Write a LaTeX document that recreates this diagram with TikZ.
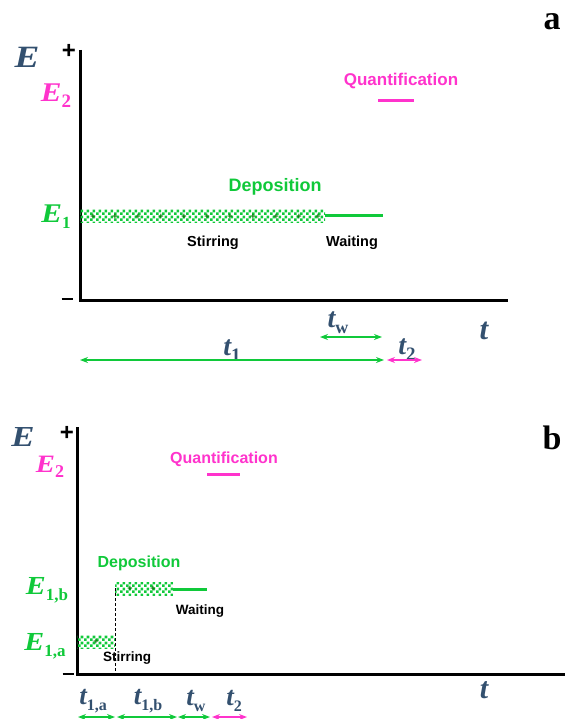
\documentclass[tikz,border=0pt]{standalone}
\usepackage{fontspec}
\setmainfont{Liberation Serif}
\setsansfont{Liberation Sans}
\usetikzlibrary{arrows.meta,patterns.meta}
\definecolor{dgreen}{HTML}{10C93A}
\definecolor{mag}{HTML}{FF33CC}
\definecolor{slate}{HTML}{33506F}
\tikzdeclarepattern{name=mycheck,type=uncolored,
  bounding box={(0pt,0pt) and (6pt,6pt)},
  tile size={(6pt,6pt)},
  code={\fill (0pt,0pt) rectangle (3pt,3pt); \fill (3pt,3pt) rectangle (6pt,6pt);}}
\newcommand{\sbx}[2]{\raisebox{-0.22em}{\fontsize{#1}{#1}\selectfont\upshape #2}}
\tikzset{
  axis/.style={line width=3pt,black},
  elab/.style={font=\bfseries\itshape\fontsize{27}{27}\selectfont,inner sep=0pt},
  tlab/.style={font=\bfseries\itshape\fontsize{28}{28}\selectfont,inner sep=0pt,text=slate},
  word/.style={font=\sffamily\bfseries\fontsize{14.5}{14.5}\selectfont,inner sep=0pt},
  bigword/.style={font=\sffamily\bfseries\fontsize{18}{18}\selectfont,inner sep=0pt},
  hatch/.style={pattern={mycheck},pattern color=dgreen},
  level/.style={line width=3pt,dgreen},
  qline/.style={line width=3pt,mag},
  span/.style={line width=1.3pt,{Stealth[length=8pt,width=6pt]}-{Stealth[length=8pt,width=6pt]}},
  panel/.style={font=\bfseries\fontsize{34}{34}\selectfont,inner sep=0pt},
  pm/.style={font=\sffamily\bfseries\fontsize{24}{24}\selectfont,inner sep=0pt},
  plusmark/.style={font=\sffamily\bfseries\fontsize{9}{9}\selectfont,inner sep=0pt,text=green!45!black}
}
\begin{document}
\begin{tikzpicture}[x=1pt,y=-1pt]
\useasboundingbox (0,0) rectangle (565,719);
% ---------------- panel a ----------------
\coordinate (aT) at (80,50);
\coordinate (aO) at (80,300);
\coordinate (aR) at (508,300);
\draw[axis] (aT) -- (aO) -- (aR);
\node[pm] (aplus) at (69,51) {+};
\node[pm] (aminus) at (67,299) {\rule{11pt}{2.8pt}};
\node[elab,text=slate,font=\bfseries\itshape\fontsize{31}{31}\selectfont] (aE) at (27,57) {\scalebox{1.2}[1]{E}};
\node[elab,text=mag] (aE2) at (56,96) {\scalebox{1.15}[1]{E}\sbx{19}{2}};
\node[elab,text=dgreen] (aE1) at (56,217) {\scalebox{1.15}[1]{E}\sbx{17}{1}};
\path[hatch] (80,209.5) rectangle (325,222.5);
\foreach \x in {93,115,138,161,184,207,230,253,276,299,318}
  \node[plusmark] at (\x,216.5) {+};
\coordinate (aW0) at (325,216);
\coordinate (aW1) at (383,216);
\draw[level] (aW0) -- (aW1);
\node[bigword,text=dgreen] (adep) at (275,187) {Deposition};
\node[word] (astir) at (213,243) {Stirring};
\node[word] (await) at (352,243) {Waiting};
\node[bigword,text=mag,font=\sffamily\bfseries\fontsize{17}{17}\selectfont] (aq) at (401,81) {Quantification};
\coordinate (aQ0) at (378,101);
\coordinate (aQ1) at (414,101);
\draw[qline] (aQ0) -- (aQ1);
\node[panel] (pa) at (552,22) {a};
\node[tlab,font=\bfseries\itshape\fontsize{31}{31}\selectfont] (at) at (484,331) {t};
\node[tlab] (atw) at (338,323) {t\sbx{18}{w}};
\node[tlab] (at1) at (232,351) {t\sbx{19}{1}};
\node[tlab] (at2) at (407,350) {t\sbx{19}{2}};
\coordinate (tw0) at (320,337);
\coordinate (tw1) at (382,337);
\draw[span,dgreen] (tw0) -- (tw1);
\coordinate (t10) at (80,360);
\coordinate (t11) at (384,360);
\draw[span,dgreen] (t10) -- (t11);
\coordinate (t20) at (387,360);
\coordinate (t21) at (422,360);
\draw[span,mag] (t20) -- (t21);
% ---------------- panel b ----------------
\coordinate (bT) at (77,427);
\coordinate (bO) at (77,674);
\coordinate (bR) at (565,674);
\draw[axis] (bT) -- (bO) -- (bR);
\node[pm] (bplus) at (67,433) {+};
\node[pm] (bminus) at (68,674) {\rule{11pt}{2.8pt}};
\node[elab,text=slate,font=\bfseries\itshape\fontsize{29}{29}\selectfont] (bE) at (23,437) {\scalebox{1.2}[1]{E}};
\node[elab,text=mag,font=\bfseries\itshape\fontsize{25}{25}\selectfont] (bE2) at (50,467) {\scalebox{1.15}[1]{E}\sbx{18}{2}};
\node[elab,text=dgreen,font=\bfseries\itshape\fontsize{26}{26}\selectfont] (bE1b) at (47,590) {\scalebox{1.15}[1]{E}\sbx{17}{1,b}};
\node[elab,text=dgreen,font=\bfseries\itshape\fontsize{26}{26}\selectfont] (bE1a) at (45,646) {\scalebox{1.15}[1]{E}\sbx{17}{1,a}};
\path[hatch] (77,635) rectangle (115,648);
\path[hatch] (115,582) rectangle (173,595);
\foreach \x in {96} \node[plusmark] at (\x,642) {+};
\foreach \x in {130,153} \node[plusmark] at (\x,589) {+};
\coordinate (bW0) at (173,589);
\coordinate (bW1) at (207,589);
\draw[level] (bW0) -- (bW1);
\coordinate (bD0) at (115,588);
\coordinate (bD1) at (115,674);
\draw[line width=0.8pt,dash pattern=on 3pt off 2pt] (bD0) -- (bD1);
\node[bigword,text=dgreen,font=\sffamily\bfseries\fontsize{16}{16}\selectfont] (bdep) at (139,563) {Deposition};
\node[word,font=\sffamily\bfseries\fontsize{13.5}{13.5}\selectfont] (bwait) at (200,611) {Waiting};
\node[word,font=\sffamily\bfseries\fontsize{13.5}{13.5}\selectfont] (bstir) at (127,658) {Stirring};
\node[bigword,text=mag,font=\sffamily\bfseries\fontsize{16}{16}\selectfont] (bq) at (224,459) {Quantification};
\coordinate (bQ0) at (207,474);
\coordinate (bQ1) at (240,474);
\draw[qline] (bQ0) -- (bQ1);
\node[panel] (pb) at (552,438) {b};
\node[tlab,font=\bfseries\itshape\fontsize{30}{30}\selectfont] (bt) at (484,690) {t};
\node[tlab,font=\bfseries\itshape\fontsize{27}{27}\selectfont] (bt1a) at (93,701) {t\sbx{16}{1,a}};
\node[tlab,font=\bfseries\itshape\fontsize{27}{27}\selectfont] (bt1b) at (148,701) {t\sbx{16}{1,b}};
\node[tlab,font=\bfseries\itshape\fontsize{27}{27}\selectfont] (btw) at (196,701) {t\sbx{16}{w}};
\node[tlab,font=\bfseries\itshape\fontsize{27}{27}\selectfont] (bt2) at (234,701) {t\sbx{16}{2}};
\coordinate (s10) at (78,717);
\coordinate (s11) at (115,717);
\coordinate (s20) at (117,717);
\coordinate (s21) at (177,717);
\coordinate (s30) at (178,717);
\coordinate (s31) at (210,717);
\coordinate (s40) at (212,717);
\coordinate (s41) at (247,717);
\draw[span,dgreen] (s10) -- (s11);
\draw[span,dgreen] (s20) -- (s21);
\draw[span,dgreen] (s30) -- (s31);
\draw[span,mag] (s40) -- (s41);
\end{tikzpicture}
\end{document}
